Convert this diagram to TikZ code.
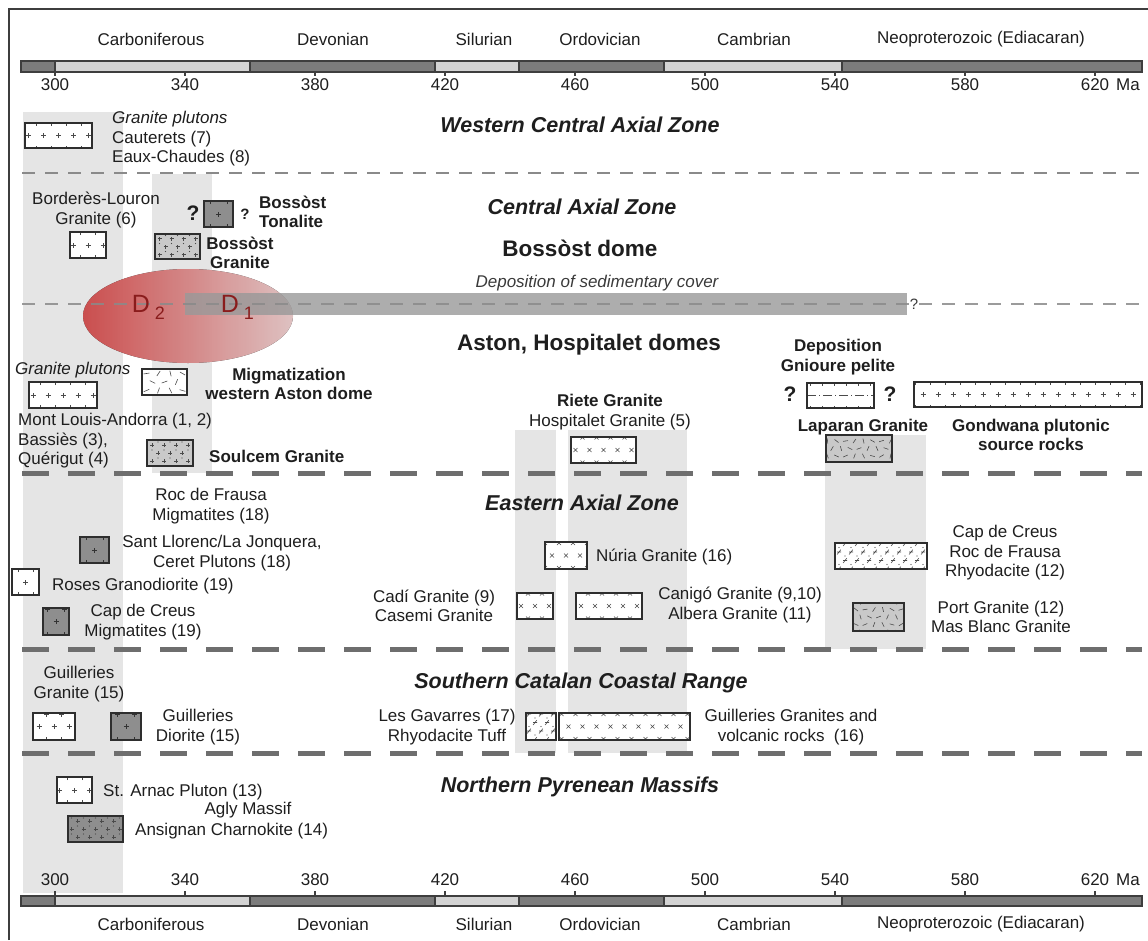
\documentclass[tikz,border=0pt]{standalone}
\usepackage{fontspec}
\setmainfont{Liberation Sans}
\usetikzlibrary{fit}

\definecolor{txt}{HTML}{1E1E1E}
\definecolor{deptext}{HTML}{3A3A3A}
\definecolor{boxline}{HTML}{2E2E2E}
\definecolor{markc}{HTML}{4A4A4A}
\definecolor{band}{HTML}{E5E5E5}
\definecolor{darkfill}{HTML}{8E8E8E}
\definecolor{lightfill}{HTML}{C9C9C9}
\definecolor{bardark}{HTML}{7C7C7C}
\definecolor{barlight}{HTML}{D3D3D3}
\definecolor{barline}{HTML}{3E3E3E}
\definecolor{thingray}{HTML}{8A8A8A}
\definecolor{thickgray}{HTML}{6E6E6E}
\definecolor{deprect}{HTML}{999999}
\definecolor{dred}{HTML}{8A1C1C}
\definecolor{ellL}{HTML}{E35656}
\definecolor{ellR}{HTML}{F8D8D8}

% grid of marks inside a box: #1 = x step, #2 = y step, #3 = list of rows, #4 = mark code at (m)
\newcommand\pgrid[4]{%
  \foreach \i in {-9,...,9}{%
    \foreach \j in #3{%
      \pgfmathsetmacro\mx{\i*#1+0.5*#1*mod(abs(\j),2)}%
      \pgfmathsetmacro\my{\j*#2}%
      \pgfmathsetmacro\ang{mod(\i*47+\j*83+2000,180)}%
      \coordinate (m) at ([shift={(\mx pt,\my pt)}]path picture bounding box.center);
      #4%
    }}}

\tikzset{
  lbl/.style={font=\fontsize{17}{19.5}\selectfont, text=txt, inner sep=0pt},
  blbl/.style={font=\bfseries\fontsize{17}{19.5}\selectfont, text=txt, inner sep=0pt},
  hd/.style={font=\bfseries\itshape\fontsize{21.5}{24}\selectfont, text=txt, inner sep=0pt},
  hdb/.style={font=\bfseries\fontsize{22.5}{25}\selectfont, text=txt, inner sep=0pt},
  qbig/.style={font=\bfseries\fontsize{21}{22}\selectfont, text=txt, inner sep=0pt},
  dlab/.style={font=\fontsize{25}{25}\selectfont, text=dred, inner sep=0pt},
  dsub/.style={font=\fontsize{18}{18}\selectfont, text=dred, inner sep=0pt},
  frame/.style={draw=barline, line width=1.4pt},
  barseg/.style={draw=barline, line width=1.2pt},
  tickmk/.style={draw=barline, line width=1.2pt},
  thindash/.style={draw=thingray, line width=2.6pt, dash pattern=on 13pt off 10pt},
  thickdash/.style={draw=thickgray, line width=5pt, dash pattern=on 27pt off 19pt},
  box/.style={draw=boxline, line width=1.3pt, inner sep=0pt, outer sep=0pt},
  wbox/.style={box, fill=white},
  dbox/.style={box, fill=darkfill},
  lbox/.style={box, fill=lightfill},
  mk/.style={draw=markc, line width=0.6pt},
  pplus/.style={path picture={\pgrid{15}{12.5}{{-1,0,1}}{\draw[mk] (m)+(-2.5pt,0)--+(2.5pt,0) (m)+(0,-2.5pt)--+(0,2.5pt);}}},
  pdplus/.style={path picture={\pgrid{17}{12.5}{{-1,0,1}}{\draw[draw=black!80, line width=0.6pt] (m)+(-2.5pt,0)--+(2.5pt,0) (m)+(0,-2.5pt)--+(0,2.5pt);}}},
  pxx/.style={path picture={\pgrid{14}{12.5}{{-1,0,1}}{\draw[mk] (m)+(-2pt,-2pt)--+(2pt,2pt) (m)+(-2pt,2pt)--+(2pt,-2pt);}}},
  pgran/.style={path picture={\pgrid{12}{8}{{-2,-1,0,1,2}}{\draw[mk] (m)+(-2pt,0)--+(2pt,0) (m)+(0,-2pt)--+(0,2pt); \fill[markc] ([shift={(6pt,3pt)}]m) circle (0.6pt);}}},
  pdash/.style={path picture={\pgrid{9}{7.5}{{-2,-1,0,1,2}}{\draw[mk] (m) ++(\ang:-2.5pt) -- ++(\ang:5pt);}}},
  pmig/.style={path picture={\pgrid{12}{8.5}{{-1,0,1}}{\draw[mk] (m) ++(\ang:-3pt) -- ++(\ang:6pt);}}},
  prhyo/.style={path picture={\pgrid{12}{8.5}{{-2,-1,0,1,2}}{\fill[markc] (m) circle (0.6pt); \draw[mk] ([shift={(6pt,4pt)}]m) ++(-1.8pt,-2.4pt) -- ++(3.6pt,4.8pt) ([shift={(6pt,4pt)}]m) ++(-2pt,0) -- ++(4pt,0);}}},
  ppel/.style={path picture={\draw[mk, dash pattern=on 9pt off 3pt on 1pt off 3pt] (path picture bounding box.west) -- (path picture bounding box.east);
      \pgrid{12}{12.5}{{-1,1}}{\draw[mk] (m)+(-2pt,0)--+(2pt,0) (m)+(0,-2.5pt)--+(0,2.5pt);}}},
}

\begin{document}
\begin{tikzpicture}[x=1pt,y=-1pt]
\useasboundingbox (0,0) rectangle (1148,940);

% ---- shaded age columns ----
\fill[band] (23,112) rectangle (123,893);
\fill[band] (152,174) rectangle (212,473);
\fill[band] (515,430) rectangle (556,753);
\fill[band] (568,430) rectangle (687,753);
\fill[band] (825,435) rectangle (926,649);

% ---- frame ----
\draw[frame] (9,940) -- (9,9) -- (1148,9);

% ---- time scales (top and bottom) ----
\foreach \a/\b/\c in {21/55/bardark,55/250/barlight,250/435/bardark,435/519/barlight,519/664/bardark,664/842/barlight,842/1142/bardark}{
  \draw[barseg, fill=\c] (\a,61) rectangle (\b,72);
  \draw[barseg, fill=\c] (\a,896) rectangle (\b,906);
}
\foreach \m in {300,340,...,620}{
  \pgfmathsetmacro\tx{55+3.25*(\m-300)}
  \draw[tickmk] (\tx,72) -- (\tx,76);
  \draw[tickmk] (\tx,891) -- (\tx,896);
  \node[lbl] (tt\m) at (\tx,85) {\m};
  \node[lbl] (tb\m) at (\tx,880) {\m};
}
\node[lbl] (mat) at (1128,85) {Ma};
\node[lbl] (mab) at (1128,880) {Ma};

\foreach \nm/\px/\txt in {carb/151/Carboniferous, devo/333/Devonian, silu/484/Silurian, ordo/600/Ordovician, camb/754/Cambrian, neop/981/Neoproterozoic (Ediacaran)}{
  \node[lbl] (pt\nm) at (\px,39) {\txt};
  \node[lbl] (pb\nm) at (\px,924) {\txt};
}

% ---- deformation ellipse and sedimentary cover ----
\fill[left color=ellL, right color=ellR, fill opacity=0.88] (188,316) ellipse [x radius=105, y radius=47];
\fill[deprect, fill opacity=0.8] (185,293) rectangle (907,315);

% ---- zone separators ----
\draw[thindash] (22,173) -- (1142,173);
\draw[thindash, draw opacity=0.85] (22,304) -- (1142,304);
\draw[thickdash] (22,473) -- (1142,473);
\draw[thickdash] (22,649) -- (1142,649);
\draw[thickdash] (22,753) -- (1142,753);
\node[lbl, font=\fontsize{15}{15}\selectfont, text=deptext, fill=white, inner sep=1pt] (qdep) at (914,304) {?};

\node[dlab] (d2) at (141,304) {D};
\node[dsub] (d2s) at (160,313) {2};
\node[dlab] (d1) at (230,304) {D};
\node[dsub] (d1s) at (249,313) {1};

% ---- zone headings ----
\node[hd] (h1) at (580,125) {Western Central Axial Zone};
\node[hd] (h2) at (582,207) {Central Axial Zone};
\node[hdb] (h3) at (580,248) {Bossòst dome};
\node[lbl, font=\itshape\fontsize{17}{19}\selectfont, text=deptext] (h4) at (597,283) {Deposition of sedimentary cover};
\node[hdb] (h5) at (589,345) {Aston, Hospitalet domes};
\node[hd] (h6) at (582,503) {Eastern Axial Zone};
\node[hd] (h7) at (581,683) {Southern Catalan Coastal Range};
\node[hd] (h8) at (580,787) {Northern Pyrenean Massifs};

% ---- Western Central Axial Zone ----
\node[wbox, pplus, fit={(25,123) (92,148)}] (cau) {};
\node[lbl, align=left, anchor=west] (caul) at (112,139) {\textit{Granite plutons}\\Cauterets (7)\\Eaux-Chaudes (8)};

% ---- Central Axial Zone, Bossost dome ----
\node[lbl, align=center] (borl) at (96,210) {Borderès-Louron\\Granite (6)};
\node[wbox, pplus, fit={(70,232) (106,258)}] (bor) {};
\node[qbig] (q1) at (193,213) {?};
\node[dbox, pdplus, fit={(204,201) (233,227)}] (ton) {};
\node[lbl, font=\bfseries\fontsize{15}{17}\selectfont] (q2) at (245,214) {?};
\node[blbl, align=left, anchor=west] (tonl) at (259,212) {Bossòst\\Tonalite};
\node[lbox, pgran, fit={(155,234) (200,259)}] (bgr) {};
\node[blbl, align=center] (bgrl) at (240,253) {Bossòst\\Granite};

% ---- Aston, Hospitalet domes ----
\node[lbl, anchor=west] (gpa) at (15,370) {\textit{Granite plutons}};
\node[wbox, pplus, fit={(29,382) (97,408)}] (mla) {};
\node[wbox, pmig, fit={(142,369) (187,395)}] (mig) {};
\node[blbl, align=center] (migl) at (289,384) {Migmatization\\western Aston dome};
\node[lbl, align=left, anchor=west] (mlal) at (18,441) {Mont Louis-Andorra (1, 2)\\Bassiès (3),\\Quérigut (4)};
\node[lbox, pgran, fit={(147,440) (193,466)}] (sou) {};
\node[blbl, anchor=west] (soul) at (209,456) {Soulcem Granite};
\node[lbl, align=center] (riel) at (610,412) {\textbf{Riete Granite}\\Hospitalet Granite (5)};
\node[wbox, pxx, fit={(571,437) (636,463)}] (hos) {};
\node[blbl, align=center] (gnil) at (838,357) {Deposition\\Gnioure pelite};
\node[qbig] (q3) at (790,394) {?};
\node[wbox, ppel, fit={(807,383) (874,408)}] (gni) {};
\node[qbig] (q4) at (890,394) {?};
\node[wbox, pplus, fit={(914,382) (1142,407)}] (gon) {};
\node[blbl, align=center] (gonl) at (1031,435) {Gondwana plutonic\\source rocks};
\node[blbl] (lapl) at (863,427) {Laparan Granite};
\node[lbox, pdash, fit={(826,435) (892,462)}] (lap) {};

% ---- Eastern Axial Zone ----
\node[lbl, align=center] (rfm) at (211,506) {Roc de Frausa\\Migmatites (18)};
\node[dbox, pdplus, fit={(80,537) (109,563)}] (sll) {};
\node[lbl, align=center] (slll) at (222,553) {Sant Llorenc/La Jonquera,\\Ceret Plutons (18)};
\node[wbox, pplus, fit={(12,569) (39,595)}] (ros) {};
\node[lbl, anchor=west] (rosl) at (52,586) {Roses Granodiorite (19)};
\node[dbox, pdplus, fit={(43,608) (69,635)}] (ccm) {};
\node[lbl, align=center] (ccml) at (143,622) {Cap de Creus\\Migmatites (19)};
\node[wbox, pxx, fit={(545,542) (587,569)}] (nur) {};
\node[lbl, anchor=west] (nurl) at (596,557) {Núria Granite (16)};
\node[lbl, align=center] (cadl) at (434,606) {Cadí Granite (9)\\Casemi Granite};
\node[wbox, pxx, fit={(517,593) (553,619)}] (cad) {};
\node[wbox, pxx, fit={(576,593) (642,619)}] (can) {};
\node[lbl, align=center] (canl) at (740,605) {Canigó Granite (9,10)\\Albera Granite (11)};
\node[wbox, prhyo, fit={(835,543) (927,569)}] (rhy) {};
\node[lbl, align=center] (rhyl) at (1005,553) {Cap de Creus\\Roc de Frausa\\Rhyodacite (12)};
\node[lbox, pdash, fit={(853,603) (904,631)}] (por) {};
\node[lbl, align=center] (porl) at (1001,617) {Port Granite (12)\\Mas Blanc Granite};

% ---- Southern Catalan Coastal Range ----
\node[lbl, align=center] (ggrl) at (79,684) {Guilleries\\Granite (15)};
\node[wbox, pplus, fit={(33,713) (75,740)}] (ggr) {};
\node[dbox, pdplus, fit={(111,713) (141,740)}] (gdi) {};
\node[lbl, align=center] (gdil) at (198,727) {Guilleries\\Diorite (15)};
\node[lbl, align=center] (lgvl) at (447,727) {Les Gavarres (17)\\Rhyodacite Tuff};
\node[wbox, prhyo, fit={(526,713) (556,740)}] (lgv) {};
\node[wbox, pxx, fit={(559,713) (690,740)}] (gvr) {};
\node[lbl, align=center] (gvrl) at (791,727) {Guilleries Granites and\\volcanic rocks\ \ (16)};

% ---- Northern Pyrenean Massifs ----
\node[wbox, pplus, fit={(57,777) (92,803)}] (sar) {};
\node[lbl, anchor=west] (sarl) at (103,792) {St. Arnac Pluton (13)};
\node[lbl] (agl) at (248,810) {Agly Massif};
\node[dbox, pgran, fit={(68,816) (123,842)}] (ans) {};
\node[lbl, anchor=west] (ansl) at (135,831) {Ansignan Charnokite (14)};
\end{tikzpicture}
\end{document}
